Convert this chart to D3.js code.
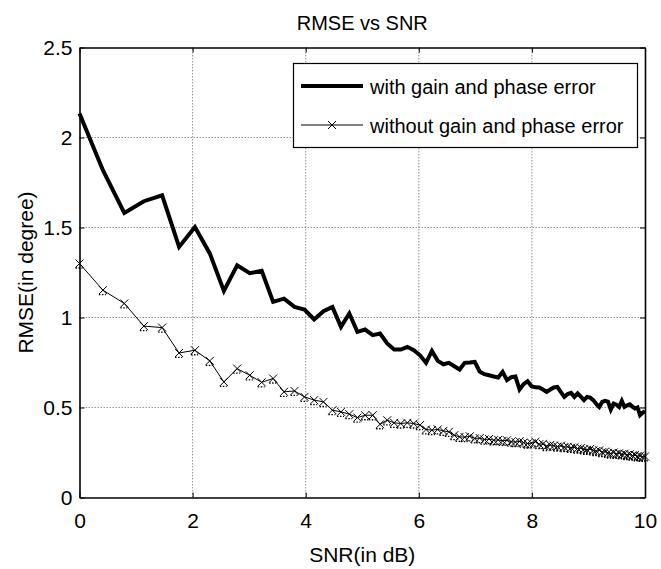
<!DOCTYPE html>
<html>
<head>
<meta charset="utf-8">
<script src="https://cdn.jsdelivr.net/npm/d3@7"></script>
<style>
    body { margin: 0; background: #fff; }
    text { font-family: "Liberation Sans", Arial, sans-serif; fill: #000; }
</style>
</head>
<body>
<script>
// SNR axis positions in dB (points at 10*log10 of 1.0, 1.1, ... 10.0)
const snrDb = [
    0, 0.414, 0.792, 1.139, 1.461, 1.761, 2.041, 2.304, 2.553, 2.788,
    3.010, 3.222, 3.424, 3.617, 3.802, 3.979, 4.150, 4.314, 4.472, 4.624,
    4.771, 4.914, 5.051, 5.185, 5.315, 5.441, 5.563, 5.682, 5.798, 5.911,
    6.021, 6.128, 6.232, 6.335, 6.435, 6.532, 6.628, 6.721, 6.812, 6.902,
    6.990, 7.076, 7.160, 7.243, 7.324, 7.404, 7.482, 7.559, 7.634, 7.709,
    7.782, 7.853, 7.924, 7.993, 8.062, 8.129, 8.195, 8.261, 8.325, 8.388,
    8.451, 8.513, 8.573, 8.633, 8.692, 8.751, 8.808, 8.865, 8.921, 8.976,
    9.031, 9.085, 9.138, 9.191, 9.243, 9.294, 9.345, 9.395, 9.445, 9.494,
    9.542, 9.590, 9.638, 9.685, 9.731, 9.777, 9.823, 9.868, 9.912, 9.956,
    10.000
];

// RMSE with gain and phase error
const withError = [
    2.133, 1.818, 1.581, 1.646, 1.679, 1.392, 1.503, 1.356, 1.148, 1.290,
    1.246, 1.259, 1.087, 1.105, 1.059, 1.044, 0.989, 1.035, 1.059, 0.948,
    1.022, 0.920, 0.933, 0.902, 0.911, 0.856, 0.822, 0.822, 0.837, 0.818,
    0.790, 0.748, 0.814, 0.759, 0.740, 0.748, 0.729, 0.711, 0.748, 0.750,
    0.753, 0.700, 0.685, 0.679, 0.672, 0.667, 0.698, 0.652, 0.668, 0.672,
    0.600, 0.630, 0.646, 0.618, 0.612, 0.611, 0.600, 0.587, 0.600, 0.611,
    0.614, 0.585, 0.559, 0.575, 0.581, 0.559, 0.578, 0.560, 0.541, 0.559,
    0.555, 0.541, 0.520, 0.503, 0.531, 0.537, 0.533, 0.489, 0.522, 0.515,
    0.503, 0.537, 0.503, 0.512, 0.518, 0.505, 0.494, 0.500, 0.457, 0.470,
    0.480
];

// RMSE without gain and phase error
const withoutError = [
    1.300, 1.152, 1.078, 0.952, 0.944, 0.803, 0.818, 0.759, 0.642, 0.716,
    0.679, 0.640, 0.661, 0.587, 0.592, 0.559, 0.541, 0.531, 0.485, 0.476,
    0.463, 0.444, 0.457, 0.457, 0.407, 0.429, 0.415, 0.411, 0.415, 0.411,
    0.402, 0.378, 0.374, 0.378, 0.370, 0.365, 0.346, 0.337, 0.335, 0.340,
    0.328, 0.330, 0.322, 0.325, 0.318, 0.320, 0.315, 0.318, 0.310, 0.308,
    0.312, 0.305, 0.300, 0.302, 0.310, 0.296, 0.298, 0.285, 0.292, 0.288,
    0.283, 0.288, 0.280, 0.282, 0.276, 0.279, 0.272, 0.275, 0.268, 0.265,
    0.270, 0.262, 0.258, 0.262, 0.252, 0.255, 0.248, 0.244, 0.250, 0.242,
    0.246, 0.240, 0.243, 0.236, 0.240, 0.233, 0.236, 0.229, 0.232, 0.226,
    0.228
];

const xTicks = [0, 2, 4, 6, 8, 10];
const yTicks = [0, 0.5, 1, 1.5, 2, 2.5];
const seriesNames = ["with gain and phase error", "without gain and phase error"];

const width = 661;
const height = 569;
const marginTop = 47.5;
const marginRight = 16;
const marginBottom = 71.5;
const marginLeft = 79.5;

const x = d3.scaleLinear()
    .domain([0, 10])
    .range([marginLeft, width - marginRight]);

const y = d3.scaleLinear()
    .domain([0, 2.5])
    .range([height - marginBottom, marginTop]);

const svg = d3.select("body")
    .append("svg")
        .attr("width", width)
        .attr("height", height);

// Dotted grid.
const grid = svg.append("g")
    .attr("stroke", "#777")
    .attr("stroke-width", 0.8)
    .attr("stroke-dasharray", "1.5,1.5");

grid.selectAll(".gx")
    .data(xTicks.slice(1, -1))
    .join("line")
        .attr("x1", d => x(d))
        .attr("x2", d => x(d))
        .attr("y1", y(0))
        .attr("y2", y(2.5));

grid.selectAll(".gy")
    .data(yTicks.slice(1, -1))
    .join("line")
        .attr("x1", x(0))
        .attr("x2", x(10))
        .attr("y1", d => y(d))
        .attr("y2", d => y(d));

// Axes with inward ticks on all four sides.
const fmt = d => String(d);

svg.append("g")
    .attr("transform", `translate(0,${y(0)})`)
    .call(d3.axisBottom(x).tickValues(xTicks).tickFormat(fmt)
        .tickSizeInner(-5).tickSizeOuter(0).tickPadding(16));

svg.append("g")
    .attr("transform", `translate(0,${y(2.5)})`)
    .call(d3.axisTop(x).tickValues(xTicks).tickFormat("")
        .tickSizeInner(-5).tickSizeOuter(0));

svg.append("g")
    .attr("transform", `translate(${x(0)},0)`)
    .call(d3.axisLeft(y).tickValues(yTicks).tickFormat(fmt)
        .tickSizeInner(-5).tickSizeOuter(0).tickPadding(7));

svg.append("g")
    .attr("transform", `translate(${x(10)},0)`)
    .call(d3.axisRight(y).tickValues(yTicks).tickFormat("")
        .tickSizeInner(-5).tickSizeOuter(0));

svg.selectAll(".tick text")
    .style("font-size", "21px");

svg.selectAll(".domain")
    .attr("stroke", "#000")
    .attr("stroke-width", 1.6);

svg.selectAll(".tick line")
    .attr("stroke", "#000");

// Data lines.
const line = d3.line()
    .x((d, i) => x(snrDb[i]))
    .y(d => y(d));

svg.append("path")
    .datum(withoutError)
    .attr("fill", "none")
    .attr("stroke", "#000")
    .attr("stroke-width", 1)
    .attr("d", line);

const cross = "M-4,-4L4,4M-4,4L4,-4";

const markers = svg.append("g")
    .attr("stroke", "#000")
    .selectAll("g")
    .data(withoutError)
    .join("g")
        .attr("transform", (d, i) => `translate(${x(snrDb[i])},${y(d)})`);

markers.append("path")
    .attr("stroke-width", 1)
    .attr("d", cross);

// small dotted print residue under each cross, as in the source figure
markers.append("path")
    .attr("stroke-width", 1.3)
    .attr("stroke-dasharray", "1.5,1.5")
    .attr("d", "M-4,4.5L3,4.5");

svg.append("path")
    .datum(withError)
    .attr("fill", "none")
    .attr("stroke", "#000")
    .attr("stroke-width", 4)
    .attr("stroke-linejoin", "miter")
    .attr("d", line);

// Title and axis labels.
svg.append("text")
    .attr("x", (x(0) + x(10)) / 2)
    .attr("y", 30)
    .attr("text-anchor", "middle")
    .style("font-size", "20px")
    .text("RMSE vs SNR");

svg.append("text")
    .attr("x", (x(0) + x(10)) / 2)
    .attr("y", 562)
    .attr("text-anchor", "middle")
    .style("font-size", "21px")
    .text("SNR(in dB)");

svg.append("text")
    .attr("transform", `translate(33,${(y(0) + y(2.5)) / 2}) rotate(-90)`)
    .attr("text-anchor", "middle")
    .style("font-size", "21px")
    .text("RMSE(in degree)");

// Legend.
const legend = svg.append("g");

legend.append("rect")
    .attr("x", 293.5)
    .attr("y", 63.5)
    .attr("width", 344)
    .attr("height", 84)
    .attr("fill", "#fff")
    .attr("stroke", "#000")
    .attr("stroke-width", 1.2);

const rows = [
    { name: seriesNames[0], width: 4, marker: false, cy: 86 },
    { name: seriesNames[1], width: 1, marker: true, cy: 125 }
];

rows.forEach(r => {
    legend.append("line")
        .attr("x1", 301)
        .attr("x2", 363)
        .attr("y1", r.cy)
        .attr("y2", r.cy)
        .attr("stroke", "#000")
        .attr("stroke-width", r.width);
    if (r.marker) {
        legend.append("path")
            .attr("transform", `translate(332,${r.cy})`)
            .attr("d", cross)
            .attr("stroke", "#000")
            .attr("stroke-width", 1);
    }
    legend.append("text")
        .attr("x", 370)
        .attr("y", r.cy + 8)
        .style("font-size", "20px")
        .text(r.name);
});
</script>
</body>
</html>
